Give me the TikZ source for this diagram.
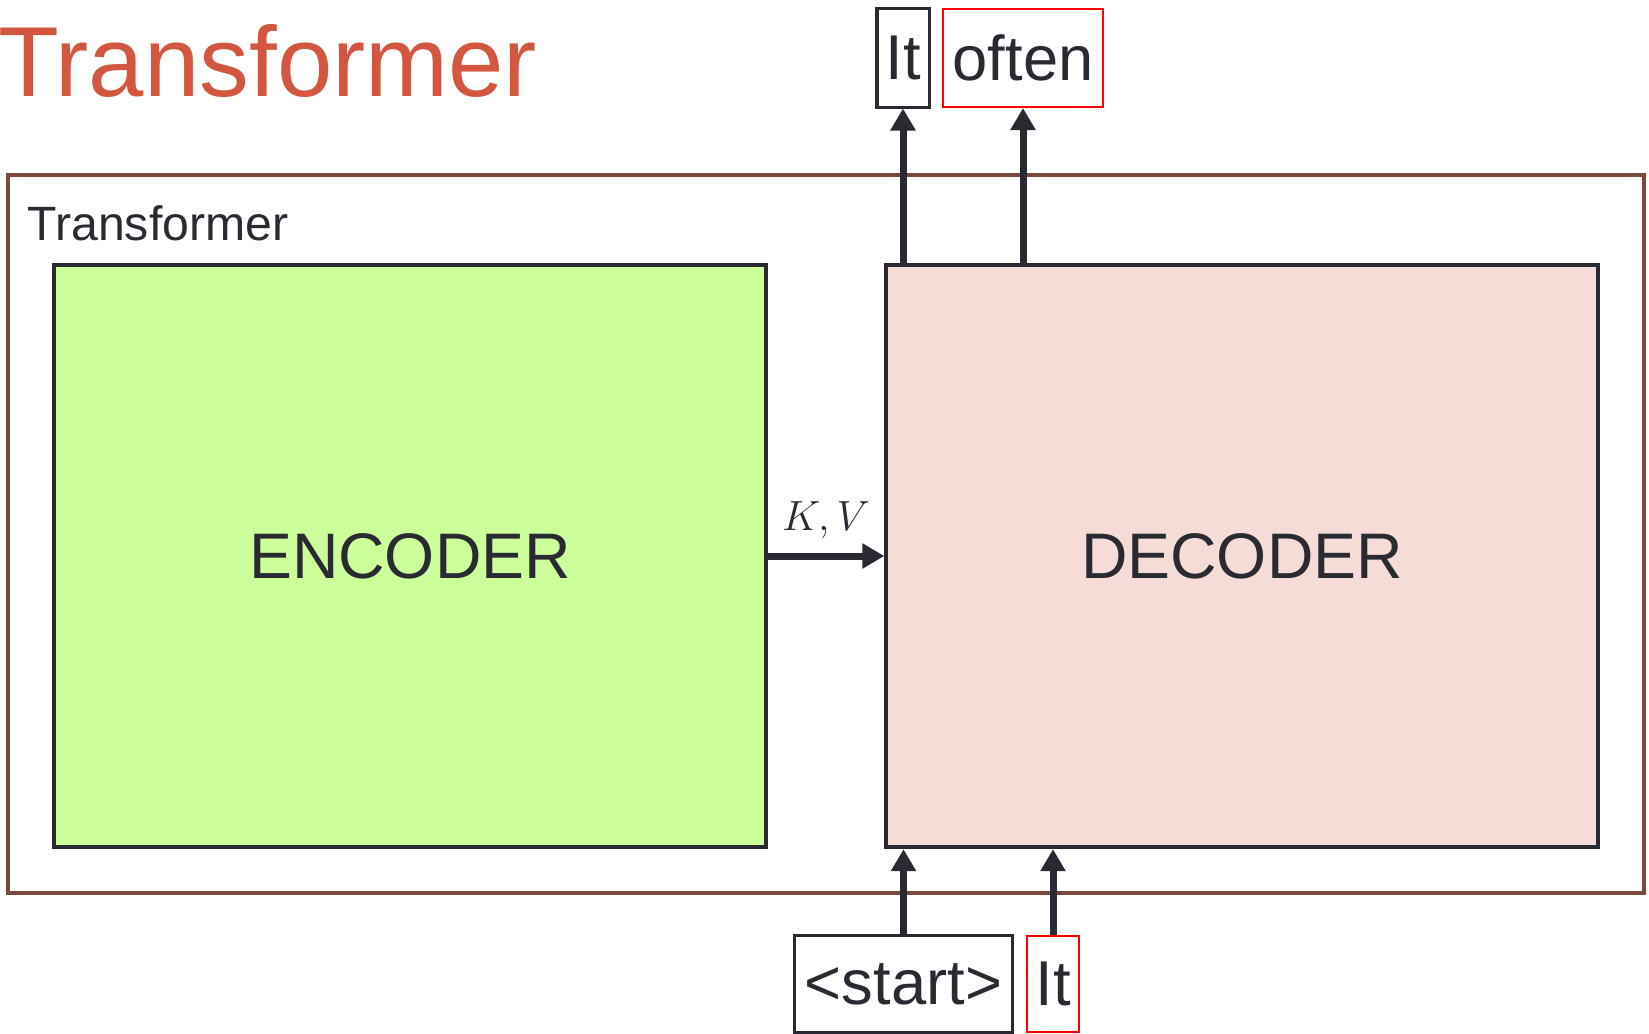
\documentclass[tikz,border=0pt]{standalone}
\usepackage{fontspec}
\setmainfont{Liberation Sans}
\usetikzlibrary{arrows.meta,positioning}
\definecolor{inkdark}{HTML}{2A2A33}
\definecolor{titlered}{HTML}{D35640}
\definecolor{framebrown}{HTML}{7A4A3C}
\definecolor{encgreen}{HTML}{CCFF99}
\definecolor{decpink}{HTML}{F5DCD7}

\begin{document}
\begin{tikzpicture}[x=0.01cm,y=-0.01cm]
\tikzset{
  blockbox/.style={draw=inkdark,line width=0.04cm,minimum width=7.11cm,minimum height=5.82cm,inner sep=0pt,font=\fontsize{18.3}{20}\selectfont,text=inkdark},
  tokenbox/.style={draw=inkdark,line width=0.03cm,minimum height=0.98cm,inner sep=0pt,font=\fontsize{18}{20}\selectfont,text=inkdark},
  newtoken/.style={tokenbox,draw=red,line width=0.02cm},
  flow/.style={-{Triangle[length=2.2mm,width=2.4mm]},line width=0.07cm,draw=inkdark}
}
\useasboundingbox (0,0) rectangle (1649,1033);
\node[anchor=base west,inner sep=0pt,text=titlered,font=\fontsize{28.3}{30}\selectfont] (title) at (-2,96) {Transformer};
\node[draw=framebrown,line width=0.04cm,minimum width=16.35cm,minimum height=7.17cm,inner sep=0pt] (frame) at (826,534) {};
\node[anchor=base west,inner sep=0pt,text=inkdark,font=\fontsize{13.7}{15}\selectfont] (framelabel) at (27,240) {Transformer};
\node[blockbox,fill=encgreen] (enc) at (410,556) {ENCODER};
\node[blockbox,fill=decpink] (dec) at (1242,556) {DECODER};
\node[tokenbox,minimum width=0.52cm] (out_it) at (903,58) {It};
\node[newtoken,minimum width=1.60cm] (out_often) at (1023,58) {often};
\node[tokenbox,minimum width=2.17cm,minimum height=0.96cm] (in_start) at (903.5,984) {<start>};
\node[newtoken,minimum width=0.52cm,minimum height=0.96cm] (in_it) at (1053,984) {It};
\draw[flow] (enc.east) -- node[above=0.5pt,text=inkdark,font=\fontsize{12}{14}\selectfont] (kv) {$K,V$} (dec.west);
\draw[flow] (dec.north -| out_it) -- (out_it.south);
\draw[flow] (dec.north -| out_often) -- (out_often.south);
\draw[flow] (in_start.north) -- (dec.south -| in_start);
\draw[flow] (in_it.north) -- (dec.south -| in_it);
\end{tikzpicture}
\end{document}
